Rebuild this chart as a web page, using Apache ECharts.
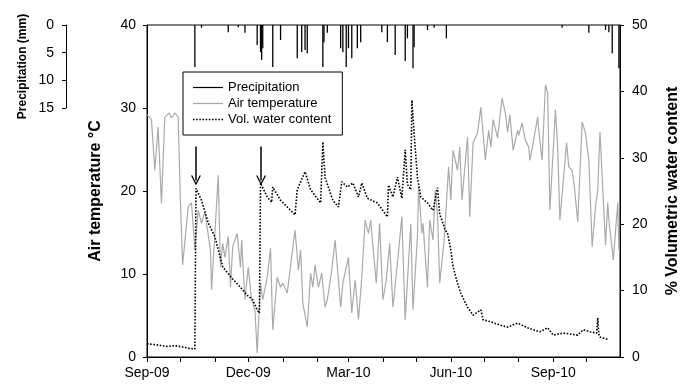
<!DOCTYPE html>
<html><head><meta charset="utf-8">
<script src="https://cdn.jsdelivr.net/npm/echarts@6/dist/echarts.min.js"></script>
<style>html,body{margin:0;padding:0;background:#fff}#c{width:689px;height:385px}</style>
</head><body><div id="c"></div>
<script>
// x values are days since 1 Sep 2009
const monthStartDays = [0,30,61,91,122,153,181,212,242,273,303,334,365,395];
const labelDays = [0,91,181,273,365];
const labelNames = ['Sep-09','Dec-09','Mar-10','Jun-10','Sep-10'];

const airTemp = [
[0,29.2],[4,28.6],[7,22.5],[10,27.7],[13,18.5],[16,28.9],[20,29.4],[22,28.8],[25,29.4],[28,28.9],[30,18.9],[32,11.1],[37,18.1],[40,18.6],[43,12.9],[46,17.7],[49,16.1],[52,17.5],[57,12.9],[58,8.1],[61,14.9],[64,21.9],[66,10.8],[68,13.7],[70,12.0],[73,14.5],[75,8.4],[77,13.3],[81,14.9],[84,10.8],[85,14.1],[88,6.9],[91,10.8],[94,6.9],[97,5.7],[99,0.5],[102,8.9],[104,6.9],[108,9.6],[111,13.1],[113,3.3],[117,9.6],[120,8.4],[122,8.9],[126,7.7],[133,15.3],[136,10.5],[138,12.9],[140,6.5],[144,3.6],[147,10.1],[149,8.4],[151,11.1],[154,8.4],[157,10.1],[160,6.0],[162,6.9],[166,10.5],[169,14.1],[174,6.0],[176,8.9],[181,12.0],[184,5.3],[187,9.3],[190,4.5],[193,9.6],[196,16.5],[199,14.9],[201,16.5],[203,13.3],[206,8.9],[209,16.1],[212,6.9],[215,9.3],[218,13.7],[221,6.0],[225,11.3],[229,16.9],[232,4.5],[237,16.0],[239,5.7],[243,14.5],[244,20.5],[247,14.9],[248,16.1],[252,8.4],[254,16.5],[257,14.1],[259,20.1],[261,17.3],[263,8.9],[267,14.1],[271,22.9],[273,18.9],[275,24.9],[279,22.5],[281,25.3],[283,18.9],[288,26.5],[290,16.9],[293,25.8],[297,27.0],[300,30.1],[304,23.7],[307,27.3],[309,25.3],[311,28.6],[315,26.4],[319,31.2],[322,29.4],[324,27.1],[326,29.2],[329,24.9],[333,27.3],[334,26.7],[337,28.2],[340,26.1],[343,25.3],[344,23.7],[347,25.8],[351,28.9],[352,27.3],[355,23.7],[358,32.8],[360,31.8],[362,17.7],[367,29.8],[369,25.3],[371,16.5],[377,25.8],[379,22.9],[382,22.5],[384,20.5],[387,16.3],[391,28.3],[394,27.0],[397,23.7],[400,13.3],[403,18.1],[405,20.1],[407,27.1],[412,13.5],[414,18.6],[415,16.5],[419,11.7],[423,18.6],[424,12.9]
];

const waterContent = [
[0,2.0],[10,1.8],[18,1.6],[25,1.7],[32,1.5],[38,1.3],[43,1.2],[44,25.4],[49,23.6],[55,20.2],[61,18.1],[68,13.6],[76,11.9],[84,10.5],[90,9.3],[95,8.6],[99,7.1],[101,6.6],[102,26.2],[108,24.1],[112,23.3],[113,25.6],[120,23.6],[126,22.6],[133,21.4],[135,25.2],[142,27.9],[147,25.2],[156,23.2],[158,32.4],[160,27.0],[167,23.6],[172,22.6],[175,26.4],[180,25.6],[185,26.2],[190,24.1],[193,26.2],[198,23.9],[207,23.2],[216,21.1],[217,25.9],[221,24.1],[225,27.1],[229,23.9],[232,31.2],[234,26.0],[237,25.2],[238,38.7],[240,33.7],[243,27.0],[246,24.1],[252,23.2],[257,22.1],[261,25.5],[263,21.5],[265,20.6],[268,19.1],[270,18.7],[273,16.1],[275,13.6],[279,11.1],[282,9.6],[288,7.5],[293,6.3],[300,7.1],[302,5.6],[309,5.3],[317,4.8],[324,4.5],[333,5.1],[342,4.4],[353,3.8],[360,4.4],[365,3.3],[374,3.6],[387,3.3],[392,4.1],[398,3.8],[404,3.6],[405,5.9],[406,3.4],[407,3.0],[415,2.6]
];

const precipitation = [
[43,7.6],[49,0.5],[73,1.3],[82,0.4],[88,1.4],[99,3.6],[102,4.9],[103,6.3],[104,4.2],[113,7.6],[120,2.7],[135,6.0],[139,4.9],[142,4.5],[144,5.1],[158,7.6],[159,3.1],[162,1.4],[174,4.2],[176,4.9],[179,7.6],[181,4.2],[184,6.0],[189,4.2],[192,3.1],[211,1.3],[216,3.1],[223,5.4],[232,6.5],[234,2.4],[239,7.8],[240,4.0],[252,0.9],[258,0.5],[269,2.4],[373,0.5],[397,1.4],[412,0.9],[415,1.3],[418,5.1],[424,7.8]
];

// arrows marking the two wetting events: [day, start %, end %]
const arrows = [[44,31.7,26.6],[102.5,31.7,26.6]];

const FONT = 'Liberation Sans, Arial, sans-serif';
const axisCommon = {
  axisLine:{show:true,lineStyle:{color:'#000',width:1}},
  axisTick:{show:true,length:4,lineStyle:{color:'#000'}},
  axisLabel:{color:'#000',fontSize:14,fontFamily:FONT,margin:11},
  splitLine:{show:false}
};
const dotsPath = 'path://' + Array.from({length:10},(_,i)=>`M${i*3} 0H${i*3+1.5}V1.5H${i*3}Z`).join(' ');
const chart = echarts.init(document.getElementById('c'), null, {renderer:'canvas'});
chart.setOption({
  animation:false,
  backgroundColor:'#fff',
  grid:[
    {left:147,right:69,top:25,bottom:28,show:true,borderColor:'#000',borderWidth:1,backgroundColor:'transparent'},
    {left:66,width:1,top:25,height:83}
  ],
  legend:{
    left:183, top:72, orient:'vertical', itemWidth:30, itemHeight:14, itemGap:3,
    padding:[9,11,9,10], borderColor:'#000', borderWidth:1, backgroundColor:'#fff',
    textStyle:{color:'#000',fontSize:13,fontFamily:FONT},
    data:[
      {name:'Precipitation', icon:'path://M0 0H30V1.2H0Z', itemStyle:{color:'#000'}},
      {name:'Air temperature', icon:'path://M0 0H30V1.3H0Z', itemStyle:{color:'#aaaaaa'}},
      {name:'Vol. water content', icon:dotsPath, itemStyle:{color:'#000'}}
    ]
  },
  xAxis:[
    Object.assign({}, axisCommon, {
      type:'value', gridIndex:0, min:0, max:425,
      axisTick:{show:true,length:5,lineStyle:{color:'#000'},customValues:monthStartDays},
      axisLabel:{color:'#000',fontSize:14,fontFamily:FONT,margin:9,customValues:labelDays,
        formatter:v=>labelNames[labelDays.indexOf(v)]}
    }),
    {type:'value', gridIndex:1, show:false, min:0, max:1}
  ],
  yAxis:[
    Object.assign({}, axisCommon, {
      type:'value', gridIndex:0, min:0, max:40, interval:10, position:'left',
      name:'Air temperature °C', nameLocation:'middle', nameGap:43, nameRotate:90,
      nameTextStyle:{color:'#000',fontSize:16,fontWeight:'bold',fontFamily:FONT}
    }),
    Object.assign({}, axisCommon, {
      type:'value', gridIndex:0, min:0, max:50, interval:10, position:'right',
      axisLabel:{color:'#000',fontSize:14,fontFamily:FONT,margin:12},
      name:'% Volumetric water content', nameLocation:'middle', nameGap:45, nameRotate:90,
      nameTextStyle:{color:'#000',fontSize:16,fontWeight:'bold',fontFamily:FONT}
    }),
    {type:'value', gridIndex:0, min:0, max:60, inverse:true, show:false},
    Object.assign({}, axisCommon, {
      type:'value', gridIndex:1, min:0, max:15, interval:5, inverse:true, position:'left',
      axisLabel:{color:'#000',fontSize:14,fontFamily:FONT,margin:12},
      name:'Precipitation (mm)', nameLocation:'middle', nameGap:37, nameRotate:90,
      nameTextStyle:{color:'#000',fontSize:12,fontWeight:'bold',fontFamily:FONT}
    })
  ],
  series:[
    {name:'Precipitation', type:'bar', xAxisIndex:0, yAxisIndex:2, barWidth:1.3,
     itemStyle:{color:'#000'}, data:precipitation, z:2},
    {name:'Air temperature', type:'line', xAxisIndex:0, yAxisIndex:0, symbol:'none',
     lineStyle:{color:'#aaaaaa',width:1.2}, itemStyle:{color:'#aaaaaa'}, data:airTemp, z:3},
    {name:'Vol. water content', type:'line', xAxisIndex:0, yAxisIndex:1, symbol:'none',
     lineStyle:{color:'#000',width:1.6,type:'dotted'}, itemStyle:{color:'#000'}, data:waterContent, z:4,
     markLine:{silent:true, symbol:['none','path://M5 0L10 8H8.6L5 2.2L1.4 8H0Z'], symbolSize:[10,10],
       label:{show:false}, lineStyle:{color:'#000',width:1.5,type:'solid'},
       data:arrows.map(a=>[{coord:[a[0],a[1]]},{coord:[a[0],a[2]]}])}}
  ]
});
</script></body></html>
